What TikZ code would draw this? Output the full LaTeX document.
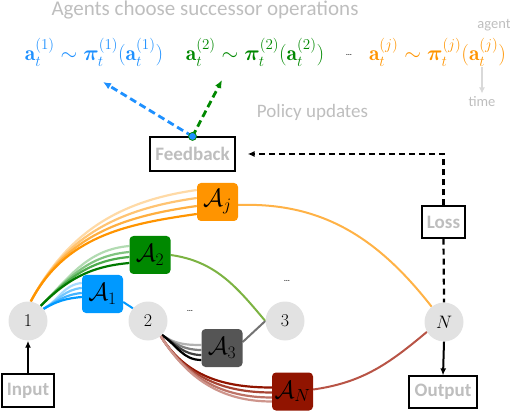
\RequirePackage{fix-cm}
\documentclass[tikz,border=0pt]{standalone}
\usepackage{amsmath,amssymb,bm}
\usepackage{fontspec}
\newfontfamily\carlito{Carlito}
\usetikzlibrary{arrows.meta,backgrounds}
\definecolor{cblue}{RGB}{0,153,255}
\definecolor{fblue}{RGB}{30,144,255}
\definecolor{cgreen}{RGB}{0,136,0}
\definecolor{corange}{RGB}{255,148,0}
\definecolor{cgray}{RGB}{85,85,85}
\definecolor{cred}{RGB}{145,20,0}
\definecolor{lgreen}{RGB}{124,179,66}
\definecolor{lorange}{RGB}{255,178,70}
\definecolor{lred}{RGB}{184,84,70}
\definecolor{txtgray}{RGB}{190,190,190}
\definecolor{nodegray}{RGB}{226,226,226}
\begin{document}
\begin{tikzpicture}[x=1pt,y=1pt,
 opnode/.style={circle,fill=nodegray,minimum size=39pt,inner sep=0pt,font=\fontsize{18}{18}\selectfont},
 agentbox/.style={rounded corners=4pt,minimum width=41pt,minimum height=38pt,inner sep=0pt,font=\fontsize{25}{25}\selectfont},
 iobox/.style={draw=black,line width=1.2pt,fill=white,inner sep=0pt,text=txtgray,font=\carlito\bfseries\fontsize{19}{19}\selectfont},
 fan/.style={line width=2.2pt},
 link/.style={line width=2pt},
 dashline/.style={line width=2.2pt,dash pattern=on 6pt off 4pt},
 dasharrow/.style={dashline,-{Latex[length=7pt,width=6pt]}},
 pdash/.style={line width=2.8pt,dash pattern=on 7pt off 4pt,-{Latex[length=8pt,width=7pt]}},
 solidarrow/.style={line width=2pt,-{Latex[length=7pt,width=6pt]}},
 graytext/.style={text=txtgray,font=\carlito\fontsize{#1}{#1}\selectfont},
 formula/.style={anchor=base,font=\fontsize{21.5}{24}\selectfont},
 dotsl/.style={font=\fontsize{10}{10}\selectfont,inner sep=0pt},
]
\useasboundingbox (0,0) rectangle (510,412);

% operation nodes
\node[opnode] (n1) at (28,91) {$1$};
\node[opnode] (n2) at (148,91) {$2$};
\node[opnode] (n3) at (285,91) {$3$};
\node[opnode] (N) at (444,90) {$N$};

% agent boxes
\node[agentbox,fill=cblue] (A1) at (102.5,118) {$\mathcal{A}_1$};
\node[agentbox,fill=cgreen] (A2) at (150,157) {$\mathcal{A}_2$};
\node[agentbox,fill=corange] (Aj) at (217.5,210) {$\mathcal{A}_j$};
\node[agentbox,fill=cgray] (A3) at (222,64) {$\mathcal{A}_3$};
\node[agentbox,fill=cred] (AN) at (292.5,20.5) {$\mathcal{A}_N$};

% io boxes
\node[iobox,minimum width=52pt,minimum height=33pt] (Input) at (28,21.5) {Input};
\node[iobox,minimum width=68pt,minimum height=32pt] (Output) at (443,20) {Output};
\node[iobox,minimum width=43pt,minimum height=32pt] (Loss) at (443.5,190) {Loss};
\node[iobox,minimum width=85pt,minimum height=34pt] (Feedback) at (192.5,258) {Feedback};

% dots
\node[dotsl] (d1) at (190,101) {\dots};
\node[dotsl] (d2) at (287,131) {\dots};
\node[dotsl] (d3) at (349,357) {\dots};

% texts
\node[graytext=21,anchor=base] (title) at (205,396.5) {Agents choose successor operations};
\node[graytext=19,anchor=base] (policy) at (312.5,294) {Policy updates};
\node[graytext=14.5,anchor=base] (agent) at (494,383) {agent};
\node[graytext=14.5,anchor=base] (time) at (482,305) {time};
\node[formula,text=fblue] (f1) at (94,351) {$\mathbf{a}_t^{(1)}\sim\bm{\pi}_t^{(1)}(\mathbf{a}_t^{(1)})$};
\node[formula,text=cgreen] (f2) at (255,351) {$\mathbf{a}_t^{(2)}\sim\bm{\pi}_t^{(2)}(\mathbf{a}_t^{(2)})$};
\node[formula,text=corange] (fj) at (437.5,351) {$\mathbf{a}_t^{(j)}\sim\bm{\pi}_t^{(j)}(\mathbf{a}_t^{(j)})$};

% time arrow
\coordinate (tstart) at (482,345);
\draw[line width=1.6pt,black!15,-{Latex[length=6pt,width=6pt]}] (tstart) -- (time.north);

% feedback dot and policy arrows
\coordinate (bluetip) at (103,330);
\coordinate (greentip) at (222,332);
\draw[pdash,fblue] (Feedback.north) -- (bluetip);
\draw[pdash,cgreen] (Feedback.north) -- (greentip);
\node[circle,fill=fblue,draw=cgreen,line width=0.8pt,inner sep=0pt,minimum size=8pt] (dot) at (Feedback.north) {};

% loss / io arrows
\draw[dasharrow,shorten >=12pt] (Loss.north) |- (Feedback.east);
\draw[dashline] (Loss.south) -- (N.north);
\draw[solidarrow] (Input.north) -- (n1.south);
\draw[solidarrow] (N.south) -- (Output.north);

\begin{scope}[on background layer]
% orange fan
\foreach \dy/\c in {12/corange!35!white, 4/corange!55!white, -4/corange!75!white, -12/corange}
  \draw[fan,\c] (n1.82) to[out=62,in=188] ([yshift=\dy pt]Aj.west);
% green fan
\foreach \dy/\c in {9/cgreen!30!white, 3/cgreen!50!white, -2/cgreen!70!white, -8/cgreen!90!black}
  \draw[fan,\c] (n1.50) to[out=45,in=185] ([yshift=\dy pt]A2.west);
% blue fan
\foreach \dy/\c in {11/cblue!35!white, 6/cblue!55!white, 1/cblue!75!white, -3/cblue}
  \draw[fan,\c] (n1.38) to[out=30,in=185] ([yshift=\dy pt]A1.west);
% gray fan
\foreach \dy/\c in {3/black!30, -2/black!50, -7/black!75, -12/black}
  \draw[fan,\c] (n2.-45) to[out=-35,in=180] ([yshift=\dy pt]A3.west);
% red fan
\foreach \dy/\c in {4/cred, -1/cred!80!white, -6/cred!60!white, -10/cred!45!white}
  \draw[fan,\c] (n2.-50) to[out=-58,in=180] ([yshift=\dy pt]AN.west);
% links
\draw[link,cblue] ([yshift=-8pt]A1.east) -- (n2.140);
\draw[link,lgreen] (A2.east) to[out=-8,in=130] (n3.west);
\draw[link,black!55] ([yshift=6pt]A3.east) -- (n3.west);
\draw[link,lorange] ([yshift=-3pt]Aj.east) to[out=2,in=128] (N.129);
\draw[link,lred] ([yshift=2pt]AN.east) to[out=8,in=-140] (N.-150);
\end{scope}
\end{tikzpicture}
\end{document}
